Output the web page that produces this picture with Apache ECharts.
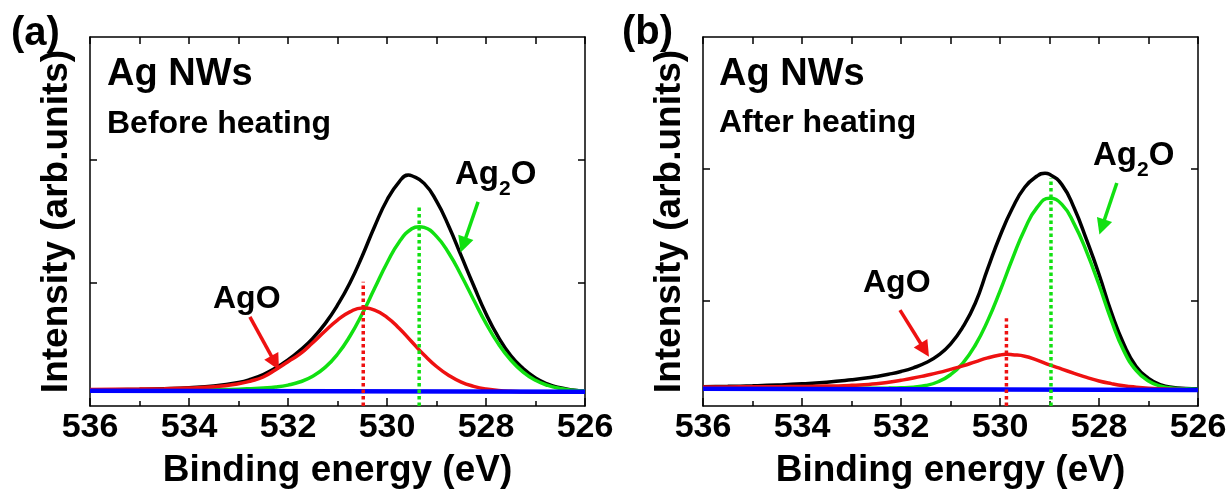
<!DOCTYPE html>
<html>
<head>
<meta charset="utf-8">
<script src="https://cdn.jsdelivr.net/npm/echarts@6/dist/echarts.min.js"></script>
<style>
  html, body { margin: 0; padding: 0; background: #fff; }
  #main { width: 1232px; height: 496px; }
</style>
</head>
<body>
<div id="main"></div>
<script>
// binding energy grid (eV), shared by every curve
const energy = [536, 535.5, 535, 534.5, 534, 533.5, 533, 532.75, 532.5, 532.25, 532, 531.75, 531.5, 531.25, 531,
  530.75, 530.5, 530.25, 530, 529.75, 529.5, 529.25, 529, 528.75, 528.5, 528.25, 528, 527.75, 527.5, 527.25, 527,
  526.75, 526.5, 526.25, 526];

// (a) before heating
const envelopeA = [0.130, 0.133, 0.136, 0.141, 0.149, 0.163, 0.192, 0.218, 0.256, 0.308, 0.375, 0.455, 0.55, 0.67, 0.82,
  1.00, 1.22, 1.46, 1.675, 1.825, 1.872, 1.81, 1.665, 1.46, 1.22, 0.98, 0.75, 0.56, 0.41, 0.305, 0.228,
  0.178, 0.148, 0.130, 0.120];
const envelopeAPeak = [529.57, 1.878];
const ag2oA = [0.125, 0.126, 0.127, 0.128, 0.130, 0.133, 0.137, 0.141, 0.146, 0.154, 0.170, 0.197, 0.242, 0.314, 0.421,
  0.567, 0.750, 0.957, 1.163, 1.336, 1.441, 1.452, 1.379, 1.242, 1.061, 0.864, 0.672, 0.505, 0.374, 0.276, 0.209,
  0.167, 0.142, 0.128, 0.121];
const ag2oAPeak = [529.35, 1.458];
const agoA = [0.134, 0.136, 0.138, 0.141, 0.146, 0.156, 0.181, 0.203, 0.236, 0.295, 0.36, 0.425, 0.514, 0.610, 0.698,
  0.765, 0.797, 0.779, 0.721, 0.630, 0.522, 0.415, 0.321, 0.248, 0.194, 0.160, 0.138, 0.127, 0.120, 0.116, 0.114,
  0.112, 0.111, 0.111, 0.111];
const backgroundA = [0.124, 0.116];

// (b) after heating
const envelopeB = [0.346, 0.349, 0.353, 0.359, 0.368, 0.381, 0.399, 0.41, 0.424, 0.441, 0.462, 0.49, 0.528, 0.584, 0.67,
  0.80, 0.98, 1.24, 1.49, 1.70, 1.86, 1.945, 1.958, 1.88, 1.70, 1.46, 1.20, 0.91, 0.67, 0.50, 0.41,
  0.36, 0.34, 0.333, 0.33];
const envelopeBPeak = [529.09, 1.966];
const ag2oB = [0.332, 0.332, 0.332, 0.333, 0.333, 0.333, 0.334, 0.334, 0.335, 0.336, 0.338, 0.343, 0.355, 0.384, 0.437,
  0.526, 0.661, 0.846, 1.072, 1.316, 1.542, 1.707, 1.776, 1.73, 1.58, 1.37, 1.12, 0.85, 0.62, 0.47, 0.39,
  0.35, 0.335, 0.33, 0.328];
const agoB = [0.345, 0.345, 0.346, 0.347, 0.348, 0.351, 0.357, 0.362, 0.368, 0.38, 0.395, 0.412, 0.432, 0.453, 0.478,
  0.505, 0.535, 0.565, 0.587, 0.589, 0.578, 0.548, 0.512, 0.48, 0.448, 0.417, 0.39, 0.37, 0.354, 0.343, 0.335,
  0.33, 0.327, 0.325, 0.324];
const agoBPeak = [529.87, 0.592];
const backgroundB = [0.331, 0.321];
const backgroundE = [536, 526];

// peak positions [energy, top of dotted marker]
const peakAgoA = [530.48, 1.01];
const peakAg2oA = [529.35, 1.63];
const peakAgoB = [529.87, 0.865];
const peakAg2oB = [528.97, 1.93];

// arrows [fromE, fromI, toE, toI]
const arrowAgoA = [532.77, 0.724, 532.26, 0.35];
const arrowAg2oA = [528.16, 1.659, 528.46, 1.309];
const arrowAgoB = [532.02, 0.928, 531.52, 0.625];
const arrowAg2oB = [527.64, 1.892, 527.94, 1.558];

const FONT = "'Liberation Sans', Arial, Helvetica, sans-serif";
const BLACK = "#000000", GREEN = "#11e011", RED = "#ee1111", BLUE = "#0000ff";

// [energy, intensity] pairs, with the read-off peak top slotted in
function pairs(ys, peak) {
  const pts = energy.map((e, i) => [e, ys[i]]);
  if (peak) pts.push(peak);
  return pts.sort((p, q) => q[0] - p[0]);
}

function curve(gi, data, color, width, z) {
  return {
    type: "line", xAxisIndex: gi * 2, yAxisIndex: gi * 2,
    data: data, smooth: 0.5, showSymbol: false, symbol: "none", z: z,
    lineStyle: { color: color, width: width },
  };
}

// dotted peak line from the bottom of the frame
function peakLine(gi, peak, color) {
  return {
    type: "line", xAxisIndex: gi * 2, yAxisIndex: gi * 2,
    data: [[peak[0], gi === 0 ? 0 : 0.2], [peak[0], peak[1]]],
    showSymbol: false, symbol: "none", z: 6,
    lineStyle: { color: color, width: 3.5, type: [3.5, 3] },
  };
}

// label arrow, drawn as a mark line in data coordinates
function arrow(gi, a, color) {
  return {
    type: "line", xAxisIndex: gi * 2, yAxisIndex: gi * 2, data: [], z: 7,
    itemStyle: { color: color },
    markLine: {
      silent: true, animation: false,
      label: { show: false },
      itemStyle: { color: color },
      lineStyle: { color: color, width: 3.5, type: "solid" },
      symbol: ["none", "triangle"], symbolSize: 16,
      data: [[
        { coord: [a[0], a[1]], symbol: "none" },
        { coord: [a[2], a[3]], symbol: "triangle", symbolSize: 16 },
      ]],
    },
  };
}

function xAxes(gi) {
  const base = {
    gridIndex: gi, type: "value", min: 526, max: 536, inverse: true,
    axisLine: { onZero: false, lineStyle: { color: BLACK, width: 1.5 } },
    splitLine: { show: false },
  };
  return [
    {
      ...base, position: "bottom", interval: 2,
      axisTick: { inside: true, length: 8, lineStyle: { color: BLACK, width: 1.5 } },
      minorTick: { show: true, splitNumber: 2, length: 5, lineStyle: { color: BLACK, width: 1.5 } },
      axisLabel: { color: BLACK, fontSize: 34, fontWeight: "bold", fontFamily: FONT, margin: 5 },
      name: "Binding energy (eV)", nameLocation: "middle", nameGap: 46,
      nameTextStyle: { color: BLACK, fontSize: 37, fontWeight: "bold", fontFamily: FONT },
    },
    {
      ...base, position: "top", interval: 1,
      axisTick: { inside: true, length: 7, lineStyle: { color: BLACK, width: 1.5 } },
      axisLabel: { show: false },
    },
  ];
}

function yAxes(gi, min, ticks) {
  const base = {
    gridIndex: gi, type: "value", min: min, max: 3,
    axisLine: { show: true, onZero: false, lineStyle: { color: BLACK, width: 1.5 } },
    axisTick: { inside: true, length: 7, customValues: ticks, lineStyle: { color: BLACK, width: 1.5 } },
    axisLabel: { show: false },
    splitLine: { show: false },
  };
  return [
    {
      ...base, position: "left",
      name: "Intensity (arb.units)", nameLocation: "middle", nameGap: 15,
      nameTextStyle: { color: BLACK, fontSize: 37, fontWeight: "bold", fontFamily: FONT },
    },
    { ...base, position: "right" },
  ];
}

function label(x, y, text, size) {
  return {
    type: "text", x: x, y: y, z: 10,
    style: { text: text, fill: BLACK, fontSize: size, fontWeight: "bold", fontFamily: FONT, verticalAlign: "middle" },
  };
}

function oxideLabel(x, y) {
  return {
    type: "text", x: x, y: y, z: 10,
    style: {
      text: "{a|Ag}{s|2}{a|O}", verticalAlign: "middle",
      rich: {
        a: { fontSize: 33, fontWeight: "bold", fontFamily: FONT, fill: BLACK },
        s: { fontSize: 21, fontWeight: "bold", fontFamily: FONT, fill: BLACK, padding: [28, 0, 0, 0] },
      },
    },
  };
}

const chartDom = document.getElementById("main");
const myChart = echarts.init(chartDom, null, { renderer: "canvas" });

const option = {
  animation: false,
  backgroundColor: "#ffffff",
  grid: [
    { left: 90, top: 37, width: 495, height: 369 },
    { left: 703, top: 37, width: 495, height: 369 },
  ],
  xAxis: [...xAxes(0), ...xAxes(1)],
  yAxis: [...yAxes(0, 0, [1, 2]), ...yAxes(1, 0.2, [1, 2])],
  series: [
    curve(0, pairs(envelopeA, envelopeAPeak), BLACK, 3.5, 2),
    curve(0, pairs(ag2oA, ag2oAPeak), GREEN, 3.5, 3),
    curve(0, pairs(agoA), RED, 3.5, 4),
    curve(0, backgroundE.map((e, i) => [e, backgroundA[i]]), BLUE, 4.5, 5),
    peakLine(0, peakAgoA, RED),
    peakLine(0, peakAg2oA, GREEN),
    arrow(0, arrowAgoA, RED),
    arrow(0, arrowAg2oA, GREEN),
    curve(1, pairs(envelopeB, envelopeBPeak), BLACK, 3.5, 2),
    curve(1, pairs(ag2oB), GREEN, 3.5, 3),
    curve(1, pairs(agoB, agoBPeak), RED, 3.5, 4),
    curve(1, backgroundE.map((e, i) => [e, backgroundB[i]]), BLUE, 4.5, 5),
    peakLine(1, peakAgoB, RED),
    peakLine(1, peakAg2oB, GREEN),
    arrow(1, arrowAgoB, RED),
    arrow(1, arrowAg2oB, GREEN),
  ],
  graphic: [
    label(11, 34, "(a)", 40),
    label(107, 75, "Ag NWs", 38),
    label(107, 124, "Before heating", 32),
    oxideLabel(455, 175),
    label(213, 299, "AgO", 32),
    label(622, 33, "(b)", 40),
    label(719, 75, "Ag NWs", 38),
    label(719, 123, "After heating", 32),
    oxideLabel(1093, 156),
    label(863, 283, "AgO", 32),
  ],
};

myChart.setOption(option);
</script>
</body>
</html>
